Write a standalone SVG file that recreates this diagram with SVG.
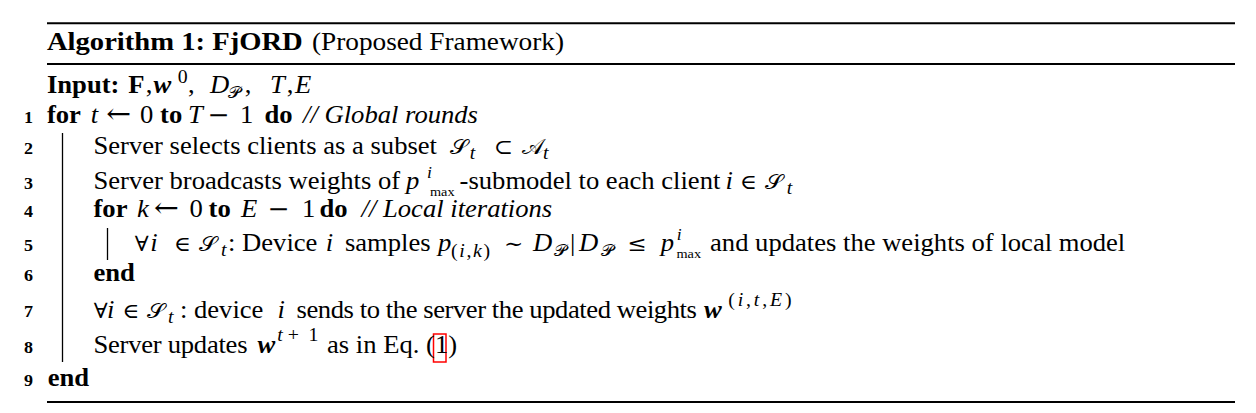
<svg xmlns="http://www.w3.org/2000/svg" width="1256" height="413" viewBox="0 0 1256 413">
<style>
text{font-family:"Liberation Serif","DejaVu Serif",serif;font-size:24.2px;fill:#000}
.b{font-weight:bold}
.i{font-style:italic}
.bi{font-weight:bold;font-style:italic}
.m{font-family:"DejaVu Serif","Liberation Serif",serif;font-size:21px;font-style:normal;font-weight:normal}
.ar{font-family:"DejaVu Serif","Liberation Serif",serif;font-size:27px;font-style:normal;font-weight:normal}
.op{font-family:"DejaVu Serif","Liberation Serif",serif;font-size:24px;font-style:normal;font-weight:normal}
.c{font-family:"DejaVu Sans","Noto Sans","DejaVu Serif",serif;font-style:normal;font-size:21px}
.cs{font-family:"DejaVu Sans","Noto Sans","DejaVu Serif",serif;font-style:normal;font-size:16px}
.sm{font-size:18px}
.sup{font-size:16px}
.xs{font-size:13px}
.ln{font-size:16.4px;font-weight:bold;text-anchor:end}
.rule{stroke:#000;stroke-width:2}
.bar{stroke:#000;stroke-width:1.3}
</style>
<rect width="1256" height="413" fill="#fff"/>
<g id="rules">
<line class="rule" x1="47" y1="23.3" x2="1235" y2="23.3"/>
<line class="rule" x1="47" y1="64" x2="1235" y2="64"/>
<line class="rule" x1="47" y1="402" x2="1235" y2="402"/>
</g>
<g id="block-bars">
<line class="bar" x1="62.5" y1="133" x2="62.5" y2="362"/>
<line class="bar" x1="107.5" y1="228" x2="107.5" y2="260"/>
</g>
<rect id="eqref" x="433.5" y="334" width="12.5" height="28" fill="none" stroke="#f00" stroke-width="1.5"/>
<g id="text" transform="scale(1.1 1)">
<g id="title"><text y="50"><tspan x="42.7" class="b" style="font-size:26px">Algorithm 1: FjORD</tspan><tspan x="283.6" style="font-size:24.8px">(Proposed Framework)</tspan></text></g>
<g id="input"><text y="93.5"><tspan x="42.7" class="b">Input:</tspan><tspan x="116.5" class="b">F</tspan><tspan x="132.6">,</tspan><tspan x="139.5" class="bi">w</tspan><tspan x="161.5" y="83" class="sm">0</tspan><tspan x="171" y="93.5">,</tspan><tspan x="190.9" class="i">D</tspan><tspan x="207.3" y="98" class="cs">𝒫</tspan><tspan x="222.5" y="93.5">,</tspan><tspan x="245.5" class="i">T</tspan><tspan x="260.6">,</tspan><tspan x="268.2" class="i">E</tspan></text></g>
<g id="line-numbers">
<text class="ln" x="30" y="123.5">1</text>
<text class="ln" x="30" y="154">2</text>
<text class="ln" x="30" y="189.5">3</text>
<text class="ln" x="30" y="217">4</text>
<text class="ln" x="30" y="251.5">5</text>
<text class="ln" x="30" y="281.5">6</text>
<text class="ln" x="30" y="317.5">7</text>
<text class="ln" x="30" y="353">8</text>
<text class="ln" x="30" y="386">9</text>
</g>
<g id="line-1"><text y="123.5"><tspan x="42.7" class="b">for</tspan><tspan x="82.5" class="i">t</tspan><tspan x="96.5" class="ar">←</tspan><tspan x="127.3">0</tspan><tspan x="145.5" class="b">to</tspan><tspan x="170.9" class="i">T</tspan><tspan x="188.5" class="op">−</tspan><tspan x="218.2">1</tspan><tspan x="240.5" class="b">do</tspan><tspan x="275.5" class="i">// Global rounds</tspan></text></g>
<g id="line-2"><text y="154"><tspan x="85">Server selects clients as a subset</tspan><tspan x="409.1" class="c">𝒮</tspan><tspan x="427" y="159" class="i sm">t</tspan><tspan x="448.8" y="154" class="m">⊂</tspan><tspan x="474.5" class="c">𝒜</tspan><tspan x="493.6" y="159" class="i sm">t</tspan></text></g>
<g id="line-3"><text y="189.5"><tspan x="85">Server broadcasts weights of</tspan><tspan x="369.1" class="i">p</tspan><tspan x="388.2" y="178" class="i sup">i</tspan><tspan x="390.9" y="196" class="xs">max</tspan><tspan x="417.8" y="189.5">-submodel to each client</tspan><tspan x="659.6" class="i">i</tspan><tspan x="672.7" class="m">∈</tspan><tspan x="695.5" class="c">𝒮</tspan><tspan x="715.2" y="194.5" class="i sm">t</tspan></text></g>
<g id="line-4"><text y="217"><tspan x="85" class="b">for</tspan><tspan x="124.5" class="i">k</tspan><tspan x="140" class="ar">←</tspan><tspan x="172.2">0</tspan><tspan x="189.6" class="b">to</tspan><tspan x="219.1" class="i">E</tspan><tspan x="243" class="op">−</tspan><tspan x="274.5">1</tspan><tspan x="290.5" class="b">do</tspan><tspan x="328.7" class="i">// Local iterations</tspan></text></g>
<g id="line-5"><text y="251.5"><tspan x="122.4" class="m">∀</tspan><tspan x="136.6" class="i">i</tspan><tspan x="158.2" class="m">∈</tspan><tspan x="180.9" class="c">𝒮</tspan><tspan x="200.9" y="256.5" class="i sm">t</tspan><tspan x="207.3" y="251.5">: Device</tspan><tspan x="296.1" class="i">i</tspan><tspan x="313.6">samples</tspan><tspan x="398.2" class="i">p</tspan><tspan x="410" y="257" class="sm" style="letter-spacing:1.5px">(<tspan class="i">i</tspan>,<tspan class="i">k</tspan>)</tspan><tspan x="458.2" y="251.5" class="m">∼</tspan><tspan x="484.5" class="i">D</tspan><tspan x="503.6" y="256.5" class="cs">𝒫</tspan><tspan x="518.2" y="251.5">|</tspan><tspan x="526.4" class="i">D</tspan><tspan x="546.4" y="256.5" class="cs">𝒫</tspan><tspan x="570.5" y="251.5" class="m">≤</tspan><tspan x="600.6" class="i">p</tspan><tspan x="615.3" y="240" class="i sup">i</tspan><tspan x="615" y="258" class="xs">max</tspan><tspan x="645.5" y="251.5">and updates the weights of local model</tspan></text></g>
<g id="line-6"><text y="281" class="b" x="85">end</text></g>
<g id="line-7"><text y="318"><tspan x="85.3" class="m">∀</tspan><tspan x="97.3" class="i">i</tspan><tspan x="111.4" class="m">∈</tspan><tspan x="133.6" class="c">𝒮</tspan><tspan x="152.7" y="323" class="i sm">t</tspan><tspan x="163.6" y="318">: device</tspan><tspan x="252.3" class="i">i</tspan><tspan x="269.6" textLength="364" lengthAdjust="spacing">sends to the server the updated weights</tspan><tspan x="640" class="bi">w</tspan><tspan x="662" y="306" class="sm" style="letter-spacing:2.6px">(<tspan class="i">i</tspan>,<tspan class="i">t</tspan>,<tspan class="i">E</tspan>)</tspan></text></g>
<g id="line-8"><text y="353"><tspan x="85" textLength="140" lengthAdjust="spacing">Server updates</tspan><tspan x="234" class="bi">w</tspan><tspan x="252" y="341" class="sm i">t</tspan><tspan x="261.5" class="sm">+</tspan><tspan x="280.5" class="sm">1</tspan><tspan x="297.3" y="353">as in Eq. (1)</tspan></text></g>
<g id="line-9"><text y="386" class="b" x="43.4">end</text></g>
</g>
</svg>
